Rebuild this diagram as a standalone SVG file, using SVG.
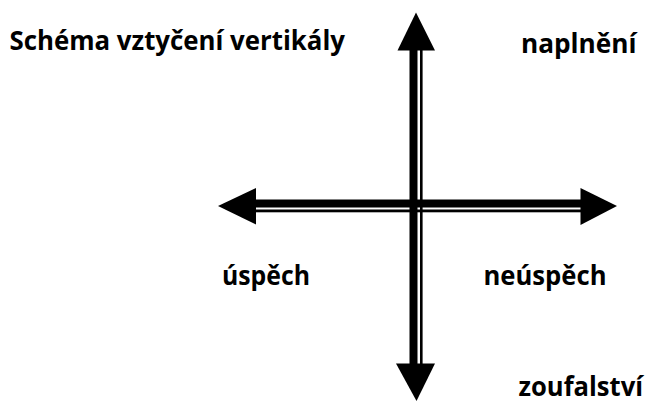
<svg xmlns="http://www.w3.org/2000/svg" width="648" height="403" viewBox="0 0 648 403">
  <style>
    .lbl { font-family: "Open Sans", "Noto Sans", "Liberation Sans", sans-serif; font-weight: bold; font-size: 26px; fill: #000; }
    .ink { fill: #000; }
  </style>
  <rect width="648" height="403" fill="#fff"/>
  <g id="connectors">
    <!-- vertical axis: double shaft with heads -->
    <rect class="ink" x="409.5" y="48" width="8" height="318"/>
    <rect class="ink" x="420" y="48" width="2.6" height="318"/>
    <polygon class="ink" points="416,12.5 397.5,50.5 435,50.5"/>
    <polygon class="ink" points="396,363.5 435,363.5 416.5,401"/>
    <!-- horizontal axis: double shaft with heads -->
    <rect class="ink" x="254" y="199.5" width="329" height="8"/>
    <rect class="ink" x="254" y="209.5" width="329" height="2.8"/>
    <polygon class="ink" points="218,206 256,188 256,224.5"/>
    <polygon class="ink" points="580.5,188 580.5,225 617,206"/>
  </g>
  <g id="title"><text class="lbl" x="9.5" y="49.5" textLength="335.5" lengthAdjust="spacingAndGlyphs">Schéma vztyčení vertikály</text></g>
  <g id="naplneni"><text class="lbl" x="521" y="53.3" textLength="115.5" lengthAdjust="spacingAndGlyphs">naplnění</text></g>
  <g id="uspech"><text class="lbl" x="222" y="285" textLength="88" lengthAdjust="spacingAndGlyphs">úspěch</text></g>
  <g id="neuspech"><text class="lbl" x="483.5" y="285" textLength="123" lengthAdjust="spacingAndGlyphs">neúspěch</text></g>
  <g id="zoufalstvi"><text class="lbl" x="518.5" y="396" textLength="124.5" lengthAdjust="spacingAndGlyphs">zoufalství</text></g>
</svg>
